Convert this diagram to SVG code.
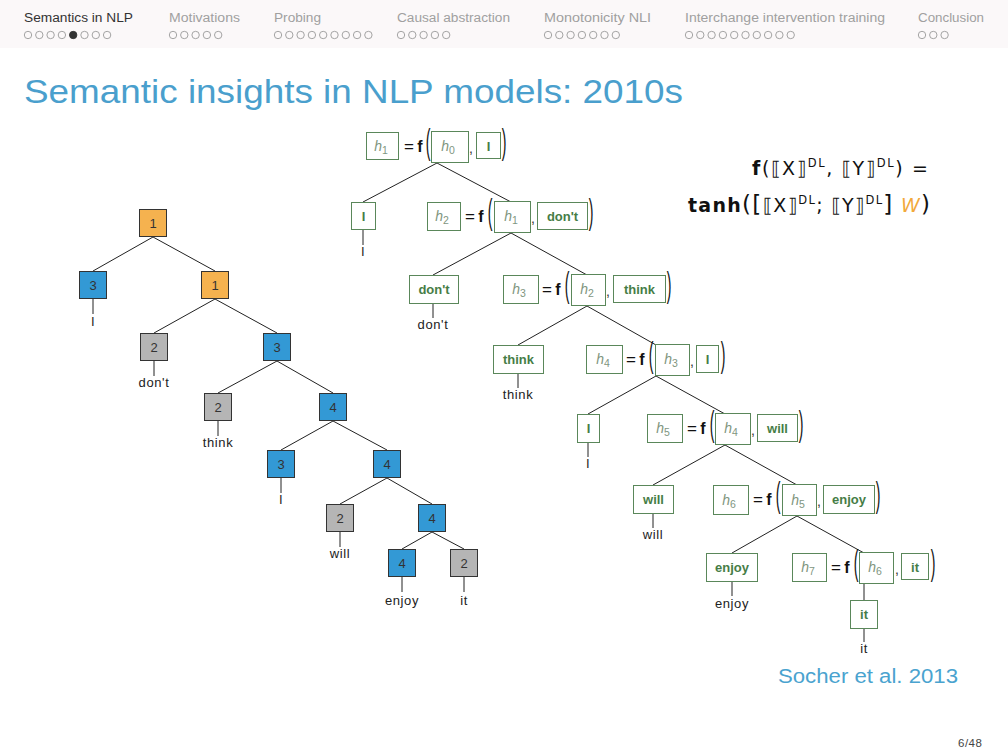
<svg xmlns="http://www.w3.org/2000/svg" width="1008" height="756" viewBox="0 0 1008 756">
<style>
.sec{font-family:"Liberation Sans",Arial,sans-serif;font-size:12.5px;fill:#a0a0a0}
.sec.act{fill:#333}
.dot{fill:none;stroke:#9a9a9a;stroke-width:0.9}
.dot.on{fill:#333;stroke:#333}
.edge{stroke:#222;stroke-width:1;fill:none}
.sq{stroke:#333;stroke-width:1}
.or{fill:#f5b24f}
.bl{fill:#3399d5}
.gr{fill:#b5b5b5}
.num{font-family:"Liberation Sans",Arial,sans-serif;font-size:13px;fill:#333;text-anchor:middle}
.lab{font-family:"Liberation Sans",Arial,sans-serif;font-size:13px;fill:#222;text-anchor:middle;letter-spacing:0.6px}
.gb{fill:#fff;stroke:#5a875a;stroke-width:1}
.hl{font-family:"Liberation Sans",Arial,sans-serif;font-style:italic;font-size:14px;fill:#7f967f;text-anchor:middle}
.sub{font-style:normal;font-size:10.5px}
.wd{font-family:"Liberation Sans",Arial,sans-serif;font-weight:bold;font-size:13px;fill:#467d46;text-anchor:middle}
.eq{font-family:"Liberation Sans",Arial,sans-serif;font-size:17px;fill:#111;text-anchor:middle}
.fb{font-family:"Liberation Sans",Arial,sans-serif;font-size:16px;font-weight:bold;fill:#111;text-anchor:middle}
.par{font-family:"Liberation Sans",Arial,sans-serif;font-size:14px;fill:#111;text-anchor:middle}
.cm{font-family:"Liberation Sans",Arial,sans-serif;font-size:14px;fill:#333;text-anchor:middle}
.fm{font-family:"DejaVu Sans",sans-serif;font-size:19px;fill:#111;text-anchor:end}
.sup{font-size:11.5px}
.big{font-size:23px}
</style>
<rect x="0" y="0" width="1008" height="756" fill="#fff"/>
<rect x="0" y="0" width="1008" height="48" fill="#fbf8f9"/>
<g id="header">
<text class="sec act" x="24" y="22" textLength="109" lengthAdjust="spacingAndGlyphs">Semantics in NLP</text>
<text class="sec" x="169" y="22" textLength="71" lengthAdjust="spacingAndGlyphs">Motivations</text>
<text class="sec" x="274" y="22" textLength="47" lengthAdjust="spacingAndGlyphs">Probing</text>
<text class="sec" x="397" y="22" textLength="113" lengthAdjust="spacingAndGlyphs">Causal abstraction</text>
<text class="sec" x="544" y="22" textLength="107" lengthAdjust="spacingAndGlyphs">Monotonicity NLI</text>
<text class="sec" x="685" y="22" textLength="200" lengthAdjust="spacingAndGlyphs">Interchange intervention training</text>
<text class="sec" x="918" y="22" textLength="66" lengthAdjust="spacingAndGlyphs">Conclusion</text>
<g>
<circle class="dot" cx="28" cy="35" r="3.7"/><circle class="dot" cx="39.3" cy="35" r="3.7"/><circle class="dot" cx="50.6" cy="35" r="3.7"/><circle class="dot" cx="61.9" cy="35" r="3.7"/><circle class="dot on" cx="73.2" cy="35" r="3.7"/><circle class="dot" cx="84.5" cy="35" r="3.7"/><circle class="dot" cx="95.8" cy="35" r="3.7"/><circle class="dot" cx="107.1" cy="35" r="3.7"/>
<circle class="dot" cx="173" cy="35" r="3.7"/><circle class="dot" cx="184.3" cy="35" r="3.7"/><circle class="dot" cx="195.6" cy="35" r="3.7"/><circle class="dot" cx="206.9" cy="35" r="3.7"/><circle class="dot" cx="218.2" cy="35" r="3.7"/>
<circle class="dot" cx="278" cy="35" r="3.7"/><circle class="dot" cx="289.3" cy="35" r="3.7"/><circle class="dot" cx="300.6" cy="35" r="3.7"/><circle class="dot" cx="311.9" cy="35" r="3.7"/><circle class="dot" cx="323.2" cy="35" r="3.7"/><circle class="dot" cx="334.5" cy="35" r="3.7"/><circle class="dot" cx="345.8" cy="35" r="3.7"/><circle class="dot" cx="357.1" cy="35" r="3.7"/><circle class="dot" cx="368.4" cy="35" r="3.7"/>
<circle class="dot" cx="401" cy="35" r="3.7"/><circle class="dot" cx="412.3" cy="35" r="3.7"/><circle class="dot" cx="423.6" cy="35" r="3.7"/><circle class="dot" cx="434.9" cy="35" r="3.7"/><circle class="dot" cx="446.2" cy="35" r="3.7"/>
<circle class="dot" cx="548" cy="35" r="3.7"/><circle class="dot" cx="559.3" cy="35" r="3.7"/><circle class="dot" cx="570.6" cy="35" r="3.7"/><circle class="dot" cx="581.9" cy="35" r="3.7"/><circle class="dot" cx="593.2" cy="35" r="3.7"/><circle class="dot" cx="604.5" cy="35" r="3.7"/><circle class="dot" cx="615.8" cy="35" r="3.7"/>
<circle class="dot" cx="689" cy="35" r="3.7"/><circle class="dot" cx="700.3" cy="35" r="3.7"/><circle class="dot" cx="711.6" cy="35" r="3.7"/><circle class="dot" cx="722.9" cy="35" r="3.7"/><circle class="dot" cx="734.2" cy="35" r="3.7"/><circle class="dot" cx="745.5" cy="35" r="3.7"/><circle class="dot" cx="756.8" cy="35" r="3.7"/><circle class="dot" cx="768.1" cy="35" r="3.7"/><circle class="dot" cx="779.4" cy="35" r="3.7"/><circle class="dot" cx="790.7" cy="35" r="3.7"/>
<circle class="dot" cx="922" cy="35" r="3.7"/><circle class="dot" cx="933.3" cy="35" r="3.7"/><circle class="dot" cx="944.6" cy="35" r="3.7"/>
</g>
</g>
<text id="title" x="24" y="103" font-family="Liberation Sans, Arial, sans-serif" font-size="34" fill="#4a9fcd" textLength="659" lengthAdjust="spacingAndGlyphs">Semantic insights in NLP models: 2010s</text>

<g id="connectors">
<line class="edge" x1="153" y1="237" x2="93" y2="271"/>
<line class="edge" x1="153" y1="237" x2="215" y2="271"/>
<line class="edge" x1="93" y1="299" x2="93" y2="314"/>
<line class="edge" x1="215" y1="299" x2="154" y2="333"/>
<line class="edge" x1="215" y1="299" x2="277" y2="333"/>
<line class="edge" x1="154" y1="361" x2="154" y2="376"/>
<line class="edge" x1="277" y1="361" x2="218" y2="393"/>
<line class="edge" x1="277" y1="361" x2="333" y2="393"/>
<line class="edge" x1="218" y1="421" x2="218" y2="436"/>
<line class="edge" x1="333" y1="421" x2="281" y2="450"/>
<line class="edge" x1="333" y1="421" x2="387" y2="450"/>
<line class="edge" x1="281" y1="478" x2="281" y2="493"/>
<line class="edge" x1="387" y1="478" x2="340" y2="504"/>
<line class="edge" x1="387" y1="478" x2="432" y2="504"/>
<line class="edge" x1="340" y1="532" x2="340" y2="547"/>
<line class="edge" x1="432" y1="532" x2="402" y2="549"/>
<line class="edge" x1="432" y1="532" x2="464" y2="549"/>
<line class="edge" x1="402" y1="577" x2="402" y2="592"/>
<line class="edge" x1="464" y1="577" x2="464" y2="592"/>
<line class="edge" x1="437" y1="163" x2="363" y2="202"/>
<line class="edge" x1="437" y1="163" x2="511" y2="202"/>
<line class="edge" x1="363" y1="230" x2="363" y2="245"/>
<line class="edge" x1="511" y1="233" x2="433" y2="275"/>
<line class="edge" x1="511" y1="233" x2="587" y2="275"/>
<line class="edge" x1="433" y1="303" x2="433" y2="318"/>
<line class="edge" x1="587" y1="306" x2="518" y2="345"/>
<line class="edge" x1="587" y1="306" x2="656" y2="345"/>
<line class="edge" x1="518" y1="373" x2="518" y2="388"/>
<line class="edge" x1="656" y1="376" x2="588" y2="414"/>
<line class="edge" x1="656" y1="376" x2="725" y2="414"/>
<line class="edge" x1="588" y1="442" x2="588" y2="457"/>
<line class="edge" x1="725" y1="445" x2="653" y2="485"/>
<line class="edge" x1="725" y1="445" x2="797" y2="485"/>
<line class="edge" x1="653" y1="513" x2="653" y2="528"/>
<line class="edge" x1="797" y1="516" x2="732" y2="553"/>
<line class="edge" x1="797" y1="516" x2="864" y2="553"/>
<line class="edge" x1="732" y1="581" x2="732" y2="596"/>
<line class="edge" x1="864" y1="584" x2="864" y2="600"/>
<line class="edge" x1="864" y1="628" x2="864" y2="642"/>
</g>

<g id="sentiment-tree">
<g id="s-root"><rect class="sq or" x="139.5" y="209.5" width="27" height="27"/><text class="num" x="153" y="228">1</text></g>
<g id="s-3a"><rect class="sq bl" x="79.5" y="271.5" width="27" height="27"/><text class="num" x="93" y="290">3</text><text class="lab" x="93" y="326">I</text></g>
<g id="s-1b"><rect class="sq or" x="201.5" y="271.5" width="27" height="27"/><text class="num" x="215" y="290">1</text></g>
<g id="s-2a"><rect class="sq gr" x="140.5" y="333.5" width="27" height="27"/><text class="num" x="154" y="352">2</text><text class="lab" x="154" y="387">don't</text></g>
<g id="s-3b"><rect class="sq bl" x="263.5" y="333.5" width="27" height="27"/><text class="num" x="277" y="352">3</text></g>
<g id="s-2b"><rect class="sq gr" x="204.5" y="393.5" width="27" height="27"/><text class="num" x="218" y="412">2</text><text class="lab" x="218" y="447">think</text></g>
<g id="s-4a"><rect class="sq bl" x="319.5" y="393.5" width="27" height="27"/><text class="num" x="333" y="412">4</text></g>
<g id="s-3c"><rect class="sq bl" x="267.5" y="450.5" width="27" height="27"/><text class="num" x="281" y="469">3</text><text class="lab" x="281" y="504">I</text></g>
<g id="s-4b"><rect class="sq bl" x="373.5" y="450.5" width="27" height="27"/><text class="num" x="387" y="469">4</text></g>
<g id="s-2c"><rect class="sq gr" x="326.5" y="504.5" width="27" height="27"/><text class="num" x="340" y="523">2</text><text class="lab" x="340" y="558">will</text></g>
<g id="s-4c"><rect class="sq bl" x="418.5" y="504.5" width="27" height="27"/><text class="num" x="432" y="523">4</text></g>
<g id="s-4d"><rect class="sq bl" x="388.5" y="549.5" width="27" height="27"/><text class="num" x="402" y="568">4</text><text class="lab" x="402" y="605">enjoy</text></g>
<g id="s-2d"><rect class="sq gr" x="450.5" y="549.5" width="27" height="27"/><text class="num" x="464" y="568">2</text><text class="lab" x="464" y="605">it</text></g>
</g>

<g id="composition-tree">
<g id="c-row1">
<rect class="gb" x="366.5" y="132.5" width="32" height="27"/><text class="hl" x="381" y="151">h<tspan class="sub" dy="3">1</tspan></text>
<text class="eq" x="409" y="152">=</text><text class="fb" x="420" y="152">f</text>
<text class="par" transform="translate(428,154) scale(1,2.5)">(</text>
<rect class="gb" x="431.5" y="131.5" width="37" height="31"/><text class="hl" x="448" y="151">h<tspan class="sub" dy="3">0</tspan></text>
<text class="cm" x="471" y="153">,</text>
<rect class="gb" x="476.5" y="132.5" width="24" height="26"/><text class="wd" x="488.5" y="151">I</text>
<text class="par" transform="translate(504,154) scale(1,2.5)">)</text>
</g>
<g id="c-leaf-I1"><rect class="gb" x="351.5" y="202.5" width="24" height="27"/><text class="wd" x="363.5" y="221">I</text><text class="lab" x="363" y="256">I</text></g>
<g id="c-row2">
<rect class="gb" x="427.5" y="202.5" width="33" height="28"/><text class="hl" x="442" y="221">h<tspan class="sub" dy="3">2</tspan></text>
<text class="eq" x="470" y="222">=</text><text class="fb" x="481" y="222">f</text>
<text class="par" transform="translate(490,224) scale(1,2.5)">(</text>
<rect class="gb" x="494.5" y="201.5" width="36" height="31"/><text class="hl" x="511" y="221">h<tspan class="sub" dy="3">1</tspan></text>
<text class="cm" x="533" y="223">,</text>
<rect class="gb" x="537.5" y="202.5" width="50" height="27"/><text class="wd" x="562.5" y="221">don't</text>
<text class="par" transform="translate(591,224) scale(1,2.5)">)</text>
</g>
<g id="c-leaf-dont"><rect class="gb" x="409.5" y="275.5" width="49" height="28"/><text class="wd" x="434" y="294">don't</text><text class="lab" x="433" y="329">don't</text></g>
<g id="c-row3">
<rect class="gb" x="503.5" y="275.5" width="35" height="28"/><text class="hl" x="519" y="294">h<tspan class="sub" dy="3">3</tspan></text>
<text class="eq" x="547" y="295">=</text><text class="fb" x="558" y="295">f</text>
<text class="par" transform="translate(567,297) scale(1,2.5)">(</text>
<rect class="gb" x="571.5" y="274.5" width="34" height="31"/><text class="hl" x="587" y="294">h<tspan class="sub" dy="3">2</tspan></text>
<text class="cm" x="608" y="296">,</text>
<rect class="gb" x="613.5" y="275.5" width="52" height="27"/><text class="wd" x="639.5" y="294">think</text>
<text class="par" transform="translate(669,297) scale(1,2.5)">)</text>
</g>
<g id="c-leaf-think"><rect class="gb" x="493.5" y="345.5" width="50" height="28"/><text class="wd" x="518.5" y="364">think</text><text class="lab" x="518" y="399">think</text></g>
<g id="c-row4">
<rect class="gb" x="586.5" y="345.5" width="36" height="28"/><text class="hl" x="603" y="364">h<tspan class="sub" dy="3">4</tspan></text>
<text class="eq" x="631" y="365">=</text><text class="fb" x="642" y="365">f</text>
<text class="par" transform="translate(651,367) scale(1,2.5)">(</text>
<rect class="gb" x="655.5" y="344.5" width="34" height="31"/><text class="hl" x="671" y="364">h<tspan class="sub" dy="3">3</tspan></text>
<text class="cm" x="692" y="366">,</text>
<rect class="gb" x="696.5" y="345.5" width="22" height="27"/><text class="wd" x="707.5" y="364">I</text>
<text class="par" transform="translate(723,367) scale(1,2.5)">)</text>
</g>
<g id="c-leaf-I2"><rect class="gb" x="577.5" y="414.5" width="22" height="28"/><text class="wd" x="588.5" y="433">I</text><text class="lab" x="588" y="468">I</text></g>
<g id="c-row5">
<rect class="gb" x="647.5" y="414.5" width="35" height="28"/><text class="hl" x="663" y="433">h<tspan class="sub" dy="3">5</tspan></text>
<text class="eq" x="692" y="434">=</text><text class="fb" x="703" y="434">f</text>
<text class="par" transform="translate(712,436) scale(1,2.5)">(</text>
<rect class="gb" x="715.5" y="413.5" width="35" height="31"/><text class="hl" x="731" y="433">h<tspan class="sub" dy="3">4</tspan></text>
<text class="cm" x="753" y="435">,</text>
<rect class="gb" x="757.5" y="414.5" width="40" height="27"/><text class="wd" x="777.5" y="433">will</text>
<text class="par" transform="translate(801,436) scale(1,2.5)">)</text>
</g>
<g id="c-leaf-will"><rect class="gb" x="633.5" y="485.5" width="40" height="28"/><text class="wd" x="653.5" y="504">will</text><text class="lab" x="653" y="539">will</text></g>
<g id="c-row6">
<rect class="gb" x="713.5" y="485.5" width="35" height="29"/><text class="hl" x="729" y="505">h<tspan class="sub" dy="3">6</tspan></text>
<text class="eq" x="758" y="505">=</text><text class="fb" x="769" y="505">f</text>
<text class="par" transform="translate(778,507) scale(1,2.5)">(</text>
<rect class="gb" x="782.5" y="484.5" width="34" height="31"/><text class="hl" x="798" y="505">h<tspan class="sub" dy="3">5</tspan></text>
<text class="cm" x="819" y="506">,</text>
<rect class="gb" x="823.5" y="485.5" width="51" height="28"/><text class="wd" x="849" y="504">enjoy</text>
<text class="par" transform="translate(878,507) scale(1,2.5)">)</text>
</g>
<g id="c-leaf-enjoy"><rect class="gb" x="706.5" y="553.5" width="51" height="28"/><text class="wd" x="732" y="572">enjoy</text><text class="lab" x="732" y="608">enjoy</text></g>
<g id="c-row7">
<rect class="gb" x="792.5" y="553.5" width="34" height="28"/><text class="hl" x="808" y="572">h<tspan class="sub" dy="3">7</tspan></text>
<text class="eq" x="836" y="573">=</text><text class="fb" x="847" y="573">f</text>
<text class="par" transform="translate(856,575) scale(1,2.5)">(</text>
<rect class="gb" x="859.5" y="552.5" width="34" height="31"/><text class="hl" x="875" y="572">h<tspan class="sub" dy="3">6</tspan></text>
<text class="cm" x="897" y="574">,</text>
<rect class="gb" x="901.5" y="553.5" width="27" height="26"/><text class="wd" x="915" y="572">it</text>
<text class="par" transform="translate(933,575) scale(1,2.5)">)</text>
</g>
<g id="c-leaf-it"><rect class="gb" x="850.5" y="600.5" width="27" height="28"/><text class="wd" x="864" y="619">it</text><text class="lab" x="864" y="653">it</text></g>
</g>

<g id="formula">
<text class="fm" x="928" y="175" textLength="176" lengthAdjust="spacing"><tspan font-weight="bold">f</tspan>(⟦X⟧<tspan class="sup" dy="-8">DL</tspan><tspan dy="8">, ⟦Y⟧</tspan><tspan class="sup" dy="-8">DL</tspan><tspan dy="8">) =</tspan></text>
<text class="fm" x="930" y="212" textLength="242" lengthAdjust="spacing"><tspan font-weight="bold">tanh</tspan><tspan class="big">(</tspan><tspan class="big">[</tspan>⟦X⟧<tspan class="sup" dy="-8">DL</tspan><tspan dy="8">; ⟦Y⟧</tspan><tspan class="sup" dy="-8">DL</tspan><tspan class="big" dy="8">]</tspan> <tspan font-style="italic" fill="#f2a93b">W</tspan><tspan class="big">)</tspan></text>
</g>
<text id="citation" x="778" y="683" font-family="Liberation Sans, Arial, sans-serif" font-size="20" fill="#4aa3cf" textLength="180" lengthAdjust="spacingAndGlyphs">Socher et al. 2013</text>
<text id="page" x="958" y="747" font-family="Liberation Sans, Arial, sans-serif" font-size="11.5" fill="#444" letter-spacing="0.5">6/48</text>
</svg>
